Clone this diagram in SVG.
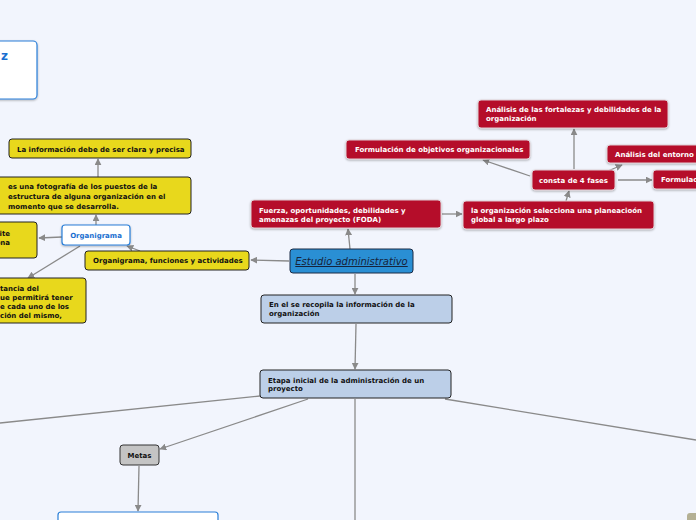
<svg xmlns="http://www.w3.org/2000/svg" width="696" height="520" viewBox="0 0 696 520">
<defs>
<marker id="ah" viewBox="0 0 10 10" refX="9" refY="5" markerWidth="7" markerHeight="7" orient="auto" markerUnits="userSpaceOnUse"><path d="M0,0 L10,5 L0,10 z" fill="#8a8a8a"/></marker>
<filter id="sh" x="-10%" y="-20%" width="120%" height="150%"><feDropShadow dx="0" dy="1" stdDeviation="0.8" flood-color="#000" flood-opacity="0.3"/></filter>
</defs>
<style>
.bg{fill:#f2f5fd}
.red rect{fill:#b50a2a;stroke:#e0d0d4;stroke-width:1}
.red text{fill:#ffffff;font-family:"DejaVu Sans",sans-serif;font-weight:bold;font-size:7px}
.yel rect{fill:#e8d81c;stroke:#222;stroke-width:1}
.yel text{fill:#111;font-family:"DejaVu Sans",sans-serif;font-weight:bold;font-size:7px}
.blu rect{fill:#bccfe8;stroke:#222;stroke-width:1}
.blu text{fill:#111;font-family:"DejaVu Sans",sans-serif;font-weight:bold;font-size:7px}
.wht rect{fill:#ffffff;stroke:#2a7fd8;stroke-width:1.2}
.wht text{fill:#1a6fd0;font-family:"DejaVu Sans",sans-serif;font-weight:bold;font-size:7px}
.gry rect{fill:#c4c4c4;stroke:#333;stroke-width:1}
.gry text{fill:#111;font-family:"DejaVu Sans",sans-serif;font-weight:bold;font-size:7px}
.con line{stroke:#8a8a8a;stroke-width:1.3;fill:none}
.con .a{marker-end:url(#ah)}
</style>
<rect class="bg" x="0" y="0" width="696" height="520"/>
<g class="con">
<line class="a" x1="350" y1="249" x2="348" y2="229"/>
<line class="a" x1="442" y1="214" x2="462" y2="214"/>
<line class="a" x1="566" y1="201" x2="569" y2="191"/>
<line class="a" x1="574" y1="169" x2="574" y2="129"/>
<line class="a" x1="530" y1="176" x2="483" y2="160"/>
<line class="a" x1="608" y1="171" x2="622" y2="165"/>
<line class="a" x1="618" y1="180" x2="652" y2="180"/>
<line class="a" x1="289" y1="261" x2="251" y2="260"/>
<line class="a" x1="140" y1="251" x2="127" y2="246"/>
<line class="a" x1="62" y1="237" x2="39" y2="238"/>
<line class="a" x1="80" y1="246" x2="28" y2="278"/>
<line class="a" x1="96" y1="225" x2="96" y2="215"/>
<line class="a" x1="98" y1="177" x2="98" y2="159"/>
<line class="a" x1="355" y1="274" x2="355" y2="294"/>
<line class="a" x1="356" y1="324" x2="355" y2="369"/>
<line x1="260" y1="396" x2="0" y2="423"/>
<line class="a" x1="308" y1="399" x2="160" y2="449"/>
<line x1="355" y1="399" x2="355" y2="520"/>
<line x1="445" y1="399" x2="696" y2="440"/>
<line class="a" x1="139" y1="466" x2="138" y2="511"/>
</g>
<g id="topleft" class="wht"><rect x="-6" y="41" width="43" height="58" rx="4" filter="url(#sh)"/><text x="8" y="60" text-anchor="end" style="font-size:12px">z</text></g>
<g id="estudio"><rect x="290" y="249" width="123" height="24" rx="3" fill="#2a8fd4" stroke="#1a2a44" stroke-width="1"/><text x="351.5" y="265" text-anchor="middle" font-family="DejaVu Sans, sans-serif" font-style="italic" font-size="10" fill="#16243c" text-decoration="underline">Estudio administrativo</text></g>
<g id="foda" class="red"><rect x="251" y="200" width="190" height="28" rx="3" filter="url(#sh)"/><text x="259" y="213">Fuerza, oportunidades, debilidades y</text><text x="259" y="222">amenazas del proyecto (FODA)</text></g>
<g id="planeacion" class="red"><rect x="463" y="201" width="191" height="28" rx="3" filter="url(#sh)"/><text x="471" y="213">la organización selecciona una planeacioón</text><text x="471" y="222">global a largo plazo</text></g>
<g id="fases" class="red"><rect x="532" y="170" width="83" height="20" rx="3" filter="url(#sh)"/><text x="573.5" y="183" text-anchor="middle">consta de 4 fases</text></g>
<g id="fortalezas" class="red"><rect x="478" y="100" width="190" height="28" rx="3" filter="url(#sh)"/><text x="486" y="112">Análisis de las fortalezas y debilidades de la</text><text x="486" y="121">organización</text></g>
<g id="objetivos" class="red"><rect x="346" y="140" width="184" height="19" rx="3" filter="url(#sh)"/><text x="355" y="152">Formulación de objetivos organizacionales</text></g>
<g id="entorno" class="red"><rect x="607" y="145" width="95" height="18" rx="3" filter="url(#sh)"/><text x="615" y="157">Análisis del entorno</text></g>
<g id="formulac" class="red"><rect x="653" y="170" width="50" height="19" rx="3" filter="url(#sh)"/><text x="661" y="182">Formulación</text></g>
<g id="clara" class="yel"><rect x="9" y="139" width="182" height="19" rx="3"/><text x="17" y="152">La información debe de ser clara y precisa</text></g>
<g id="fotografia" class="yel"><rect x="-6" y="177" width="197" height="37" rx="3"/><text x="8" y="189">es una fotografía de los puestos de la</text><text x="8" y="199">estructura de alguna organización en el</text><text x="8" y="209">momento que se desarrolla.</text></g>
<g id="ite" class="yel"><rect x="-6" y="222" width="43" height="36" rx="3"/><text x="10" y="236" text-anchor="end">ite</text><text x="10" y="245" text-anchor="end">ona</text></g>
<g id="organigrama" class="wht"><rect x="62" y="225" width="68" height="20" rx="3" filter="url(#sh)"/><text x="96" y="238" text-anchor="middle">Organigrama</text></g>
<g id="funciones" class="yel"><rect x="85" y="251" width="164" height="19" rx="3"/><text x="93" y="263">Organigrama, funciones y actividades</text></g>
<g id="importancia" class="yel"><rect x="-6" y="278" width="92" height="45" rx="3"/><text x="0" y="291">tancia del</text><text x="0" y="300">ue permitirá tener</text><text x="0" y="309">e cada uno de los</text><text x="0" y="318">ción del mismo,</text></g>
<g id="recopila" class="blu"><rect x="261" y="295" width="191" height="28" rx="3"/><text x="269" y="307">En el se recopila la información de la</text><text x="269" y="316">organización</text></g>
<g id="etapa" class="blu"><rect x="260" y="370" width="191" height="28" rx="3"/><text x="268" y="383">Etapa inicial de la administración de un</text><text x="268" y="391">proyecto</text></g>
<g id="metas" class="gry"><rect x="120" y="445" width="39" height="20" rx="3"/><text x="139.5" y="458" text-anchor="middle">Metas</text></g>
<g id="bottombox" class="wht"><rect x="58" y="512" width="160" height="20" rx="3"/></g>
<g id="bottomright"><rect x="687" y="513" width="14" height="12" rx="3" fill="#b4b094"/></g>
</svg>
